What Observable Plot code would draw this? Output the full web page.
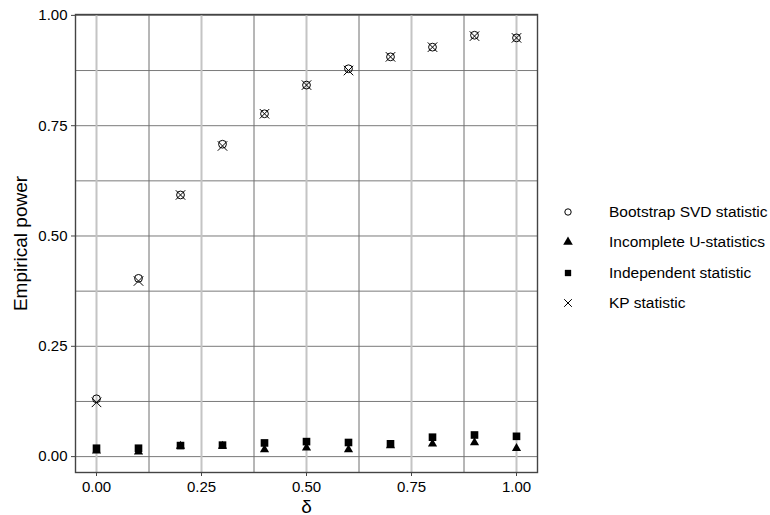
<!DOCTYPE html>
<html>
<head>
<meta charset="utf-8">
<script src="https://cdn.jsdelivr.net/npm/d3@7"></script>
<script src="https://cdn.jsdelivr.net/npm/@observablehq/plot@0.6"></script>
<style>
  html, body { margin: 0; padding: 0; background: #fff; }
  #wrap { position: relative; width: 770px; height: 515px; font-family: "Liberation Sans", Arial, sans-serif; }
  #legend { position: absolute; left: 558px; top: 197px; font-size: 15.5px; color: #000; }
  #legend .row { display: flex; align-items: center; height: 30.3px; }
  #legend svg { width: 20px; height: 20px; margin-right: 31px; }
</style>
</head>
<body>
<div id="wrap"></div>
<script>
const deltas = [0, 0.1, 0.2, 0.3, 0.4, 0.5, 0.6, 0.7, 0.8, 0.9, 1.0];
const bootstrapSVD = [0.131, 0.404, 0.593, 0.708, 0.777, 0.842, 0.879, 0.906, 0.928, 0.955, 0.949];
const incompleteU  = [0.013, 0.011, 0.024, 0.024, 0.016, 0.020, 0.016, 0.025, 0.029, 0.032, 0.019];
const independent  = [0.019, 0.019, 0.025, 0.026, 0.031, 0.034, 0.032, 0.029, 0.044, 0.049, 0.046];
const kpStat       = [0.123, 0.398, 0.593, 0.704, 0.777, 0.842, 0.875, 0.906, 0.928, 0.953, 0.949];

const seriesNames = ["Bootstrap SVD statistic", "Incomplete U-statistics", "Independent statistic", "KP statistic"];
const seriesValues = [bootstrapSVD, incompleteU, independent, kpStat];
const seriesSymbols = ["circle", "triangle", "square", "times"];

const xTicks = [0, 0.25, 0.5, 0.75, 1.0];
const xMinor = [0.125, 0.375, 0.625, 0.875];
const yTicks = [0, 0.25, 0.5, 0.75, 1.0];
const yMinor = [0.125, 0.375, 0.625, 0.875];

const rows = (i) => deltas.map((d, j) => ({delta: d, power: seriesValues[i][j], series: seriesNames[i]}));

const fmt = d3.format(".2f");

const chart = Plot.plot({
  width: 770,
  height: 515,
  marginLeft: 75,
  marginRight: 233,
  marginTop: 14,
  marginBottom: 43,
  style: {fontFamily: "Liberation Sans, Arial, sans-serif", fontSize: "15px", color: "#000", background: "#fff"},
  x: {domain: [-0.05, 1.05]},
  y: {domain: [-0.036, 1.002]},
  marks: [
    Plot.ruleY(yMinor, {stroke: "#7a7a7a", strokeWidth: 1}),
    Plot.ruleY(yTicks, {stroke: "#7a7a7a", strokeWidth: 1}),
    Plot.ruleX(xMinor, {stroke: "#6e6e6e", strokeWidth: 1}),
    Plot.ruleX(xTicks, {stroke: "#c4c4c4", strokeWidth: 2}),
    Plot.frame({stroke: "#444", strokeWidth: 1.4}),
    Plot.axisX({ticks: xTicks, tickFormat: fmt, tickSize: 4, tickPadding: 5, fontSize: 15, stroke: "#444",
      label: "δ", labelAnchor: "center", labelOffset: 40, labelArrow: "none"}),
    Plot.axisY({ticks: yTicks, tickFormat: fmt, tickSize: 4, tickPadding: 4, fontSize: 15, stroke: "#444",
      label: "Empirical power", labelAnchor: "center", labelOffset: 62, labelArrow: "none"}),
    Plot.dot(rows(0), {x: "delta", y: "power", symbol: "circle", r: 3.9, stroke: "#000", strokeWidth: 1, fill: "none"}),
    Plot.dot(rows(1), {x: "delta", y: "power", symbol: "triangle", r: 3.4, fill: "#000", stroke: "none"}),
    Plot.dot(rows(2), {x: "delta", y: "power", symbol: "square", r: 4.3, fill: "#000", stroke: "none"}),
    Plot.dot(rows(3), {x: "delta", y: "power", symbol: "times", r: 4.4, stroke: "#000", strokeWidth: 1, fill: "none"})
  ]
});

// enlarge axis titles
d3.select(chart).selectAll("g[aria-label='x-axis label'] text, g[aria-label='y-axis label'] text")
  .style("font-size", "19px");

const wrap = document.getElementById("wrap");
wrap.appendChild(chart);

// Legend (HTML, to the right of the panel)
const legend = d3.select(wrap).append("div").attr("id", "legend");
const symMap = {circle: d3.symbolCircle, triangle: d3.symbolTriangle, square: d3.symbolSquare, times: d3.symbolTimes};
seriesNames.forEach((name, i) => {
  const row = legend.append("div").attr("class", "row");
  const svg = row.append("svg").attr("viewBox", "-10 -10 20 20");
  const s = seriesSymbols[i];
  const filled = s === "triangle" || s === "square";
  svg.append("path")
    .attr("d", d3.symbol(symMap[s], s === "circle" ? 32 : 40)())
    .attr("fill", filled ? "#000" : "none")
    .attr("stroke", filled ? "none" : "#000")
    .attr("stroke-width", 1);
  row.append("span").text(name);
});
</script>
</body>
</html>
